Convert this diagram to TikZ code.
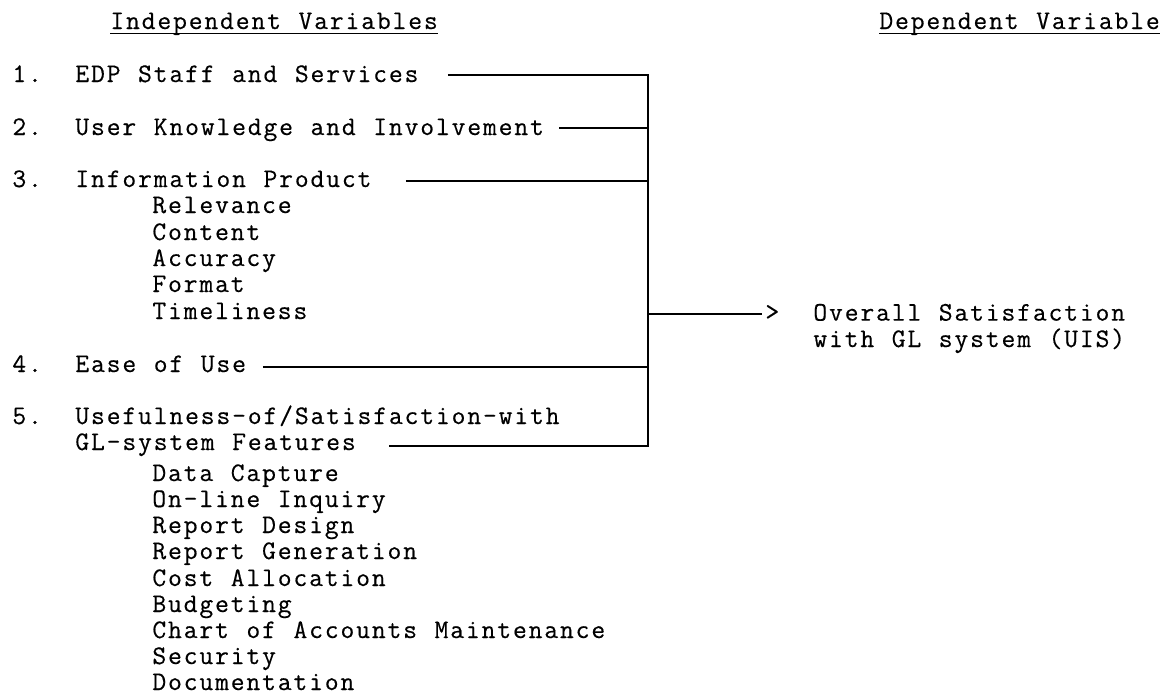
\documentclass[tikz,border=0pt]{standalone}
\usepackage{fontspec}
\setmonofont{Latin Modern Mono}[LetterSpace=7,WordSpace=1.12,FakeBold=0.4]
\begin{document}
\begin{tikzpicture}[x=0.5pt,y=-0.5pt,
    txt/.style={anchor=base west,inner sep=0pt,
      font=\ttfamily\fontsize{13.4pt}{13.2pt}\selectfont},
    conn/.style={line width=1pt},
    uline/.style={line width=0.5pt}]
  \fill[white] (0,0) rectangle (1165,697);
  % headings
  \node[txt] (hdrL) at (110,29) {Independent Variables};
  \node[txt] (hdrR) at (879,29) {Dependent Variable};
  \draw[uline] ([yshift=-2pt]hdrL.base west) -- ([yshift=-2pt]hdrL.base east);
  \draw[uline] ([yshift=-2pt]hdrR.base west) -- ([yshift=-2pt]hdrR.base east);
  % independent variables
  \node[txt] (num1) at (12,82) {1.};
  \node[txt] (edp) at (75,82) {EDP Staff and Services};
  \node[txt] (num2) at (12,135) {2.};
  \node[txt] (user) at (75,135) {User Knowledge and Involvement};
  \node[txt] (num3) at (12,187) {3.};
  \node[txt] (info) at (75,187) {Information Product};
  \node[txt] (rel) at (152,213) {Relevance};
  \node[txt] (cont) at (152,240) {Content};
  \node[txt] (acc) at (152,266) {Accuracy};
  \node[txt] (fmt) at (152,292) {Format};
  \node[txt] (time) at (152,319) {Timeliness};
  \node[txt] (num4) at (12,372) {4.};
  \node[txt] (ease) at (75,372) {Ease of Use};
  \node[txt] (num5) at (12,424) {5.};
  \node[txt] (use) at (75,424) {Usefulness-of/Satisfaction-with};
  \node[txt] (feat) at (75,450) {GL-system Features};
  \node[txt] (capt) at (152,481) {Data Capture};
  \node[txt] (inq) at (152,507) {On-line Inquiry};
  \node[txt] (rdes) at (152,533) {Report Design};
  \node[txt] (rgen) at (152,559) {Report Generation};
  \node[txt] (cost) at (152,586) {Cost Allocation};
  \node[txt] (budg) at (152,612) {Budgeting};
  \node[txt] (chart) at (152,638) {Chart of Accounts Maintenance};
  \node[txt] (sec) at (152,664) {Security};
  \node[txt] (doc) at (152,690) {Documentation};
  % dependent variable
  \node[txt] (head) at (765,320) {>};
  \node[txt,align=left] (sat) at (813,347) {Overall Satisfaction\\with GL system (UIS)};
  % connectors
  \coordinate (j1) at (648,75);
  \coordinate (j2) at (648,128);
  \coordinate (j3) at (648,181);
  \coordinate (j4) at (648,367);
  \coordinate (j5) at (648,446);
  \coordinate (jo) at (648,314);
  \draw[conn] ([xshift=14.5pt]edp.base east |- j1) -- (j1) -- (j5)
    -- ([xshift=16.5pt]feat.base east |- j5);
  \draw[conn] ([xshift=7.5pt]user.base east |- j2) -- (j2);
  \draw[conn] ([xshift=17pt]info.base east |- j3) -- (j3);
  \draw[conn] ([xshift=8.25pt]ease.base east |- j4) -- (j4);
  \draw[conn] (jo) -- ([xshift=-1.5pt]head.base west |- jo);
\end{tikzpicture}
\end{document}
